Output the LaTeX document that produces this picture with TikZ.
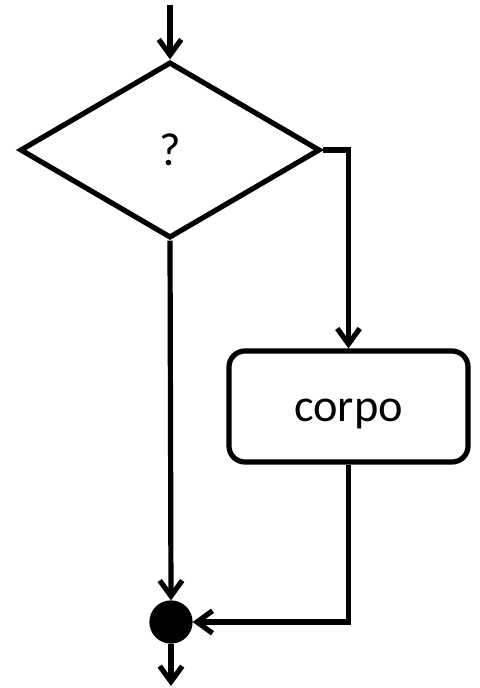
\documentclass[tikz,border=0pt]{standalone}
\usepackage{fontspec}
\setmainfont{Carlito}
\usetikzlibrary{positioning, shapes.geometric, arrows.meta}
\tikzset{
every path/.style={line width=3.7pt},
decision/.style={draw, diamond, minimum width=7.5cm, minimum height=4.4cm, inner sep=0pt, font=\fontsize{33}{40}\selectfont},
block/.style={draw, rectangle, rounded corners=0.4cm, minimum width=5.975cm, minimum height=2.775cm, text height=22pt, text depth=0pt, font=\fontsize{33}{40}\selectfont},
junction/.style={draw, circle, fill=black, minimum size=0.95cm, inner sep=0pt},
flow/.style={-{Straight Barb[length=11pt, width=16pt, line width=3.7pt]}},
}

\begin{document}
\begin{tikzpicture}[x=0.025cm, y=-0.025cm]
    \useasboundingbox (0,0) rectangle (479,688);

    %nodes
    \coordinate (start) at (170,5);
    \node[decision] (test) at (170,150) {?};
    \node[block]    (body) at (348.5,406.5) {corpo};
    \node[junction] (join) at (171,622) {};
    \coordinate (stop) at (171,686);

    %connectors
    \draw[flow] (start)--(test.north);
    \draw[flow] (test.east)-|(body.north);
    \draw[flow] (test.south)--(join.north);
    \draw[flow] (body.south)|-(join.east);
    \draw[flow] (join.south)--(stop);
\end{tikzpicture}
\end{document}
